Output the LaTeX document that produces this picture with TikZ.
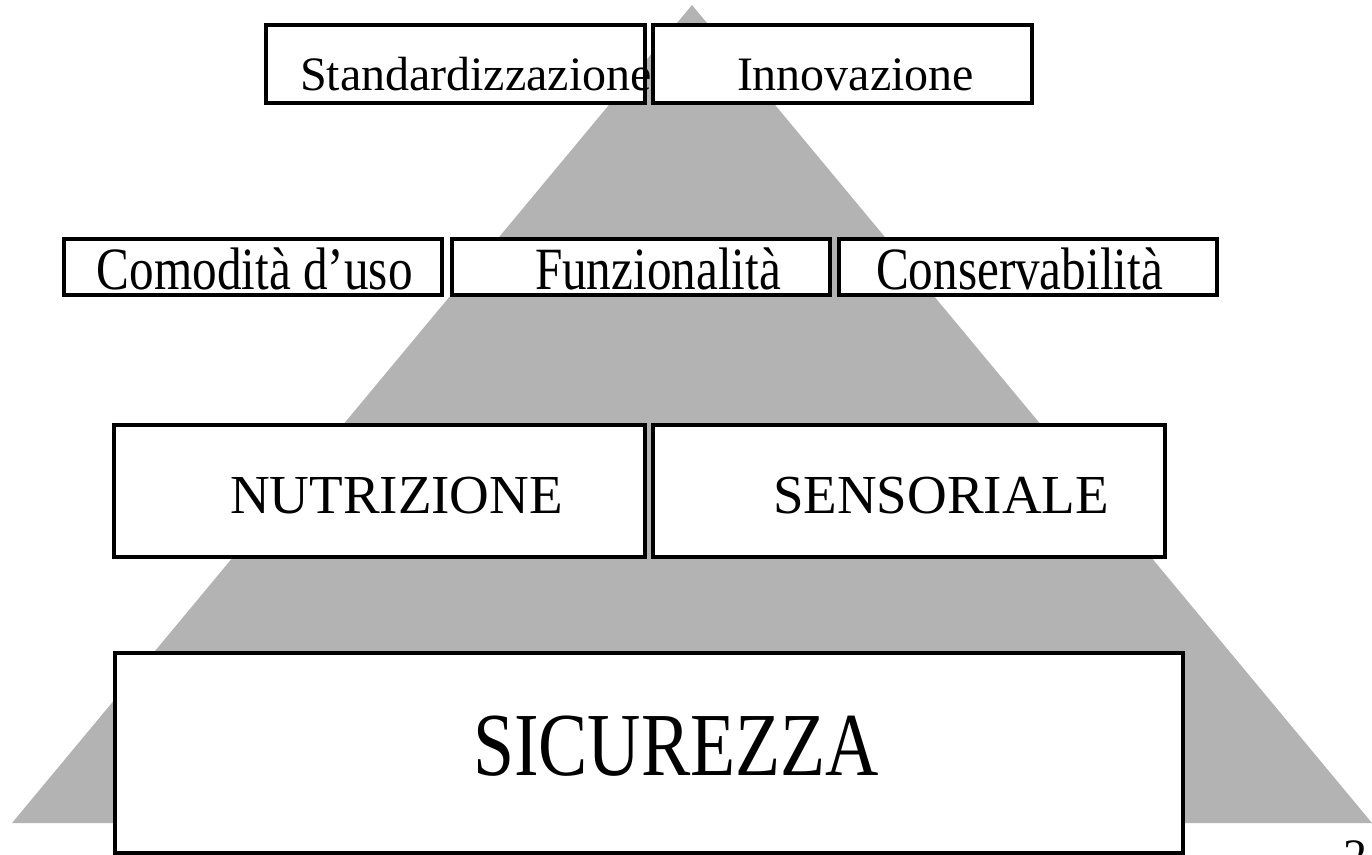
\documentclass[tikz,border=0pt]{standalone}
\usepackage{fontspec}
\setmainfont{Liberation Serif}
\newfontfamily\condfont[FakeStretch=0.82]{Liberation Serif}
\definecolor{triG}{RGB}{179,179,179}
\tikzset{
  box/.style={draw=black, line width=1.7pt, fill=white, inner sep=0pt, outer sep=0pt},
  lbl/.style={anchor=base west, inner sep=0pt, outer sep=0pt, text=black},
  szA/.style={font=\fontsize{24}{28}\selectfont},
  szB/.style={font=\condfont\fontsize{30}{34}\selectfont},
  szC/.style={font=\fontsize{27.5}{32}\selectfont},
  szD/.style={font=\condfont\fontsize{45}{50}\selectfont}
}
\begin{document}
\begin{tikzpicture}[x=0.5pt,y=-0.5pt]
\useasboundingbox (0,0) rectangle (1372,855);
% pyramid
\fill[triG] (692,5) -- (12,823) -- (1372,823) -- cycle;
% boxes
\node[box, minimum width=189.5pt, minimum height=39pt] (b1) at (455.5,64) {};
\node[box, minimum width=189.5pt, minimum height=39pt] (b2) at (842.5,64) {};
\node[box, minimum width=189pt, minimum height=28pt] (b3) at (253,267) {};
\node[box, minimum width=189pt, minimum height=28pt] (b4) at (641,267) {};
\node[box, minimum width=189pt, minimum height=28pt] (b5) at (1028,267) {};
\node[box, minimum width=265.5pt, minimum height=66pt] (b6) at (379.5,491) {};
\node[box, minimum width=256pt, minimum height=66pt] (b7) at (909,491) {};
\node[box, minimum width=534pt, minimum height=100pt] (b8) at (649,753) {};
% labels
\node[lbl, szA] (t1) at (300,91) {Standardizzazione};
\node[lbl, szA] (t2) at (737,91) {Innovazione};
\node[lbl, szB] (t3) at (97,290) {Comodità d’uso};
\node[lbl, szB] (t4) at (535,290) {Funzionalità};
\node[lbl, szB] (t5) at (876,290) {Conservabilità};
\node[lbl, szC] (t6) at (230,514) {NUTRIZIONE};
\node[lbl, szC] (t7) at (773,514) {SENSORIALE};
\node[lbl, szD] (t8) at (473,775) {SICUREZZA};
\node[lbl, szA] (t9) at (1343,872) {2};
\end{tikzpicture}
\end{document}
